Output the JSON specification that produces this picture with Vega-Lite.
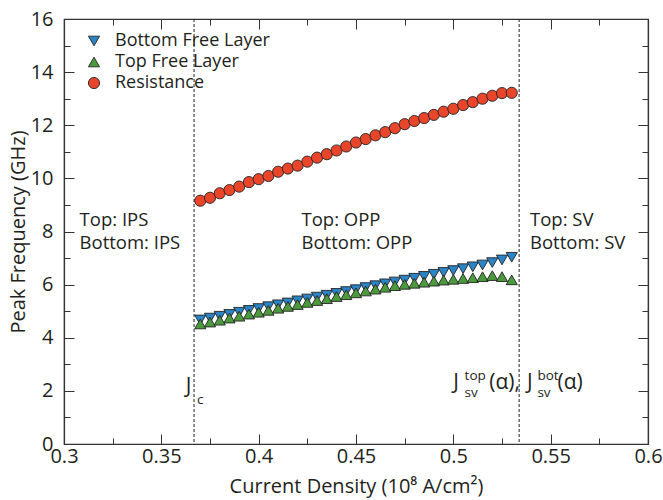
{
  "$schema": "https://vega.github.io/schema/vega-lite/v6.json",
  "width": 584,
  "height": 425,
  "autosize": "none",
  "padding": {"left": 64, "top": 19, "right": 15, "bottom": 56},
  "config": {
    "font": "Open Sans",
    "view": {"stroke": "#333", "strokeWidth": 1.2},
    "axis": {"domainColor": "#333", "domainWidth": 1.2, "tickColor": "#333", "tickWidth": 1, "grid": false, "labelColor": "#231f20", "titleColor": "#231f20", "labelFont": "Open Sans", "titleFont": "Open Sans", "titleFontWeight": "normal", "labelFontSize": 20, "titleFontSize": 20}
  },
  "datasets": {
    "pts": [
      {"x": 0.37, "y": 4.67, "s": "Bottom Free Layer"},
      {"x": 0.375, "y": 4.74, "s": "Bottom Free Layer"},
      {"x": 0.38, "y": 4.81, "s": "Bottom Free Layer"},
      {"x": 0.385, "y": 4.88, "s": "Bottom Free Layer"},
      {"x": 0.39, "y": 4.96, "s": "Bottom Free Layer"},
      {"x": 0.395, "y": 5.03, "s": "Bottom Free Layer"},
      {"x": 0.4, "y": 5.10, "s": "Bottom Free Layer"},
      {"x": 0.405, "y": 5.17, "s": "Bottom Free Layer"},
      {"x": 0.41, "y": 5.24, "s": "Bottom Free Layer"},
      {"x": 0.415, "y": 5.31, "s": "Bottom Free Layer"},
      {"x": 0.42, "y": 5.39, "s": "Bottom Free Layer"},
      {"x": 0.425, "y": 5.46, "s": "Bottom Free Layer"},
      {"x": 0.43, "y": 5.53, "s": "Bottom Free Layer"},
      {"x": 0.435, "y": 5.60, "s": "Bottom Free Layer"},
      {"x": 0.44, "y": 5.67, "s": "Bottom Free Layer"},
      {"x": 0.445, "y": 5.74, "s": "Bottom Free Layer"},
      {"x": 0.45, "y": 5.81, "s": "Bottom Free Layer"},
      {"x": 0.455, "y": 5.89, "s": "Bottom Free Layer"},
      {"x": 0.46, "y": 5.96, "s": "Bottom Free Layer"},
      {"x": 0.465, "y": 6.03, "s": "Bottom Free Layer"},
      {"x": 0.47, "y": 6.10, "s": "Bottom Free Layer"},
      {"x": 0.475, "y": 6.17, "s": "Bottom Free Layer"},
      {"x": 0.48, "y": 6.24, "s": "Bottom Free Layer"},
      {"x": 0.485, "y": 6.31, "s": "Bottom Free Layer"},
      {"x": 0.49, "y": 6.39, "s": "Bottom Free Layer"},
      {"x": 0.495, "y": 6.46, "s": "Bottom Free Layer"},
      {"x": 0.5, "y": 6.53, "s": "Bottom Free Layer"},
      {"x": 0.505, "y": 6.60, "s": "Bottom Free Layer"},
      {"x": 0.51, "y": 6.67, "s": "Bottom Free Layer"},
      {"x": 0.515, "y": 6.74, "s": "Bottom Free Layer"},
      {"x": 0.52, "y": 6.83, "s": "Bottom Free Layer"},
      {"x": 0.525, "y": 6.93, "s": "Bottom Free Layer"},
      {"x": 0.53, "y": 7.03, "s": "Bottom Free Layer"},
      {"x": 0.37, "y": 4.52, "s": "Top Free Layer"},
      {"x": 0.375, "y": 4.59, "s": "Top Free Layer"},
      {"x": 0.38, "y": 4.66, "s": "Top Free Layer"},
      {"x": 0.385, "y": 4.74, "s": "Top Free Layer"},
      {"x": 0.39, "y": 4.81, "s": "Top Free Layer"},
      {"x": 0.395, "y": 4.89, "s": "Top Free Layer"},
      {"x": 0.4, "y": 4.96, "s": "Top Free Layer"},
      {"x": 0.405, "y": 5.03, "s": "Top Free Layer"},
      {"x": 0.41, "y": 5.11, "s": "Top Free Layer"},
      {"x": 0.415, "y": 5.18, "s": "Top Free Layer"},
      {"x": 0.42, "y": 5.25, "s": "Top Free Layer"},
      {"x": 0.425, "y": 5.33, "s": "Top Free Layer"},
      {"x": 0.43, "y": 5.40, "s": "Top Free Layer"},
      {"x": 0.435, "y": 5.47, "s": "Top Free Layer"},
      {"x": 0.44, "y": 5.55, "s": "Top Free Layer"},
      {"x": 0.445, "y": 5.62, "s": "Top Free Layer"},
      {"x": 0.45, "y": 5.69, "s": "Top Free Layer"},
      {"x": 0.455, "y": 5.76, "s": "Top Free Layer"},
      {"x": 0.46, "y": 5.83, "s": "Top Free Layer"},
      {"x": 0.465, "y": 5.90, "s": "Top Free Layer"},
      {"x": 0.47, "y": 5.96, "s": "Top Free Layer"},
      {"x": 0.475, "y": 6.01, "s": "Top Free Layer"},
      {"x": 0.48, "y": 6.05, "s": "Top Free Layer"},
      {"x": 0.485, "y": 6.09, "s": "Top Free Layer"},
      {"x": 0.49, "y": 6.13, "s": "Top Free Layer"},
      {"x": 0.495, "y": 6.17, "s": "Top Free Layer"},
      {"x": 0.5, "y": 6.20, "s": "Top Free Layer"},
      {"x": 0.505, "y": 6.23, "s": "Top Free Layer"},
      {"x": 0.51, "y": 6.26, "s": "Top Free Layer"},
      {"x": 0.515, "y": 6.30, "s": "Top Free Layer"},
      {"x": 0.52, "y": 6.34, "s": "Top Free Layer"},
      {"x": 0.525, "y": 6.30, "s": "Top Free Layer"},
      {"x": 0.53, "y": 6.18, "s": "Top Free Layer"},
      {"x": 0.37, "y": 9.16, "s": "Resistance"},
      {"x": 0.375, "y": 9.27, "s": "Resistance"},
      {"x": 0.38, "y": 9.44, "s": "Resistance"},
      {"x": 0.385, "y": 9.56, "s": "Resistance"},
      {"x": 0.39, "y": 9.69, "s": "Resistance"},
      {"x": 0.395, "y": 9.86, "s": "Resistance"},
      {"x": 0.4, "y": 9.97, "s": "Resistance"},
      {"x": 0.405, "y": 10.09, "s": "Resistance"},
      {"x": 0.41, "y": 10.25, "s": "Resistance"},
      {"x": 0.415, "y": 10.37, "s": "Resistance"},
      {"x": 0.42, "y": 10.48, "s": "Resistance"},
      {"x": 0.425, "y": 10.63, "s": "Resistance"},
      {"x": 0.43, "y": 10.78, "s": "Resistance"},
      {"x": 0.435, "y": 10.91, "s": "Resistance"},
      {"x": 0.44, "y": 11.05, "s": "Resistance"},
      {"x": 0.445, "y": 11.20, "s": "Resistance"},
      {"x": 0.45, "y": 11.35, "s": "Resistance"},
      {"x": 0.455, "y": 11.48, "s": "Resistance"},
      {"x": 0.46, "y": 11.62, "s": "Resistance"},
      {"x": 0.465, "y": 11.74, "s": "Resistance"},
      {"x": 0.47, "y": 11.89, "s": "Resistance"},
      {"x": 0.475, "y": 12.04, "s": "Resistance"},
      {"x": 0.48, "y": 12.16, "s": "Resistance"},
      {"x": 0.485, "y": 12.27, "s": "Resistance"},
      {"x": 0.49, "y": 12.39, "s": "Resistance"},
      {"x": 0.495, "y": 12.51, "s": "Resistance"},
      {"x": 0.5, "y": 12.62, "s": "Resistance"},
      {"x": 0.505, "y": 12.76, "s": "Resistance"},
      {"x": 0.51, "y": 12.87, "s": "Resistance"},
      {"x": 0.515, "y": 13.00, "s": "Resistance"},
      {"x": 0.52, "y": 13.11, "s": "Resistance"},
      {"x": 0.525, "y": 13.21, "s": "Resistance"},
      {"x": 0.53, "y": 13.22, "s": "Resistance"}
    ],
    "regions": [
      {"x": 0.308, "y": 8.19, "t": "Top: IPS"},
      {"x": 0.308, "y": 7.34, "t": "Bottom: IPS"},
      {"x": 0.422, "y": 8.19, "t": "Top: OPP"},
      {"x": 0.422, "y": 7.34, "t": "Bottom: OPP"},
      {"x": 0.5394, "y": 8.19, "t": "Top: SV"},
      {"x": 0.5394, "y": 7.34, "t": "Bottom: SV"}
    ],
    "mainlab": [
      {"x": 0.3625, "y": 1.92, "t": "J"},
      {"x": 0.5000, "y": 2.07, "t": "J"},
      {"x": 0.5185, "y": 2.07, "t": "(α),"},
      {"x": 0.5378, "y": 2.07, "t": "J"},
      {"x": 0.5535, "y": 2.07, "t": "(α)"}
    ],
    "scripts": [
      {"x": 0.3683, "y": 1.50, "t": "c"},
      {"x": 0.5058, "y": 2.41, "t": "top"},
      {"x": 0.5058, "y": 1.78, "t": "sv"},
      {"x": 0.5432, "y": 2.41, "t": "bot"},
      {"x": 0.5432, "y": 1.78, "t": "sv"}
    ],
    "lines": [{"x": 0.3668}, {"x": 0.5338}]
  },
  "resolve": {"axis": {"x": "independent", "y": "independent"}},
  "layer": [
    {
      "data": {"name": "lines"},
      "mark": {"type": "rule", "strokeDash": [3, 2], "color": "#231f20", "strokeWidth": 1},
      "encoding": {
        "x": {"field": "x", "type": "quantitative", "scale": {"domain": [0.3, 0.6], "nice": false, "zero": false},
          "axis": {"orient": "top", "title": null, "labels": false, "domain": true,
            "values": [0.3, 0.325, 0.35, 0.375, 0.4, 0.425, 0.45, 0.475, 0.5, 0.525, 0.55, 0.575, 0.6],
            "tickSize": {"condition": {"test": "round(datum.value*1000) % 50 === 0", "value": -10}, "value": -6}}}
      }
    },
    {
      "data": {"name": "pts"},
      "mark": {"type": "point", "filled": true, "opacity": 1, "size": 125, "stroke": "#222", "strokeWidth": 0.9},
      "encoding": {
        "x": {"field": "x", "type": "quantitative", "scale": {"domain": [0.3, 0.6], "nice": false, "zero": false},
          "axis": {"orient": "bottom", "title": "Current Density (10⁸ A/cm²)", "titlePadding": 10,
            "values": [0.3, 0.325, 0.35, 0.375, 0.4, 0.425, 0.45, 0.475, 0.5, 0.525, 0.55, 0.575, 0.6],
            "labelExpr": "round(datum.value*1000) % 50 === 0 ? format(datum.value, '~g') : ''",
            "labelPadding": 12, "labelFlush": false,
            "tickSize": {"condition": {"test": "round(datum.value*1000) % 50 === 0", "value": -10}, "value": -6}}},
        "y": {"field": "y", "type": "quantitative", "scale": {"domain": [0, 16], "nice": false},
          "axis": {"orient": "left", "title": "Peak Frequency (GHz)", "titlePadding": 2,
            "values": [0, 1, 2, 3, 4, 5, 6, 7, 8, 9, 10, 11, 12, 13, 14, 15, 16],
            "labelExpr": "datum.value % 2 === 0 ? datum.label : ''",
            "labelPadding": 21, "labelFlush": false,
            "tickSize": {"condition": {"test": "datum.value % 2 === 0", "value": -10}, "value": -6}}},
        "color": {"field": "s", "type": "nominal",
          "scale": {"domain": ["Bottom Free Layer", "Top Free Layer", "Resistance"], "range": ["#2a84c6", "#4c9a3e", "#e8452a"]},
          "legend": {"title": null, "orient": "none", "legendX": 21, "legendY": 13, "labelFontSize": 18, "labelFont": "Open Sans", "labelColor": "#231f20", "labelLimit": 400, "symbolSize": 125, "symbolStrokeColor": "#222", "symbolStrokeWidth": 0.9, "labelOffset": 12, "rowPadding": 3, "symbolOpacity": 1}},
        "shape": {"field": "s", "type": "nominal",
          "scale": {"domain": ["Bottom Free Layer", "Top Free Layer", "Resistance"], "range": ["triangle-down", "triangle-up", "circle"]}}
      }
    },
    {
      "data": {"name": "regions"},
      "mark": {"type": "text", "align": "left", "baseline": "alphabetic", "fontSize": 18.5, "color": "#231f20", "font": "Open Sans"},
      "encoding": {
        "x": {"field": "x", "type": "quantitative", "axis": null},
        "y": {"field": "y", "type": "quantitative",
          "axis": {"orient": "right", "title": null, "labels": false,
            "values": [0, 1, 2, 3, 4, 5, 6, 7, 8, 9, 10, 11, 12, 13, 14, 15, 16],
            "tickSize": {"condition": {"test": "datum.value % 2 === 0", "value": -10}, "value": -6}}},
        "text": {"field": "t"}
      }
    },
    {
      "data": {"name": "mainlab"},
      "mark": {"type": "text", "align": "left", "baseline": "alphabetic", "fontSize": 21, "color": "#231f20", "font": "Open Sans"},
      "encoding": {
        "x": {"field": "x", "type": "quantitative", "axis": null},
        "y": {"field": "y", "type": "quantitative", "axis": null},
        "text": {"field": "t"}
      }
    },
    {
      "data": {"name": "scripts"},
      "mark": {"type": "text", "align": "left", "baseline": "alphabetic", "fontSize": 13.5, "color": "#231f20", "font": "Open Sans"},
      "encoding": {
        "x": {"field": "x", "type": "quantitative", "axis": null},
        "y": {"field": "y", "type": "quantitative", "axis": null},
        "text": {"field": "t"}
      }
    }
  ]
}
